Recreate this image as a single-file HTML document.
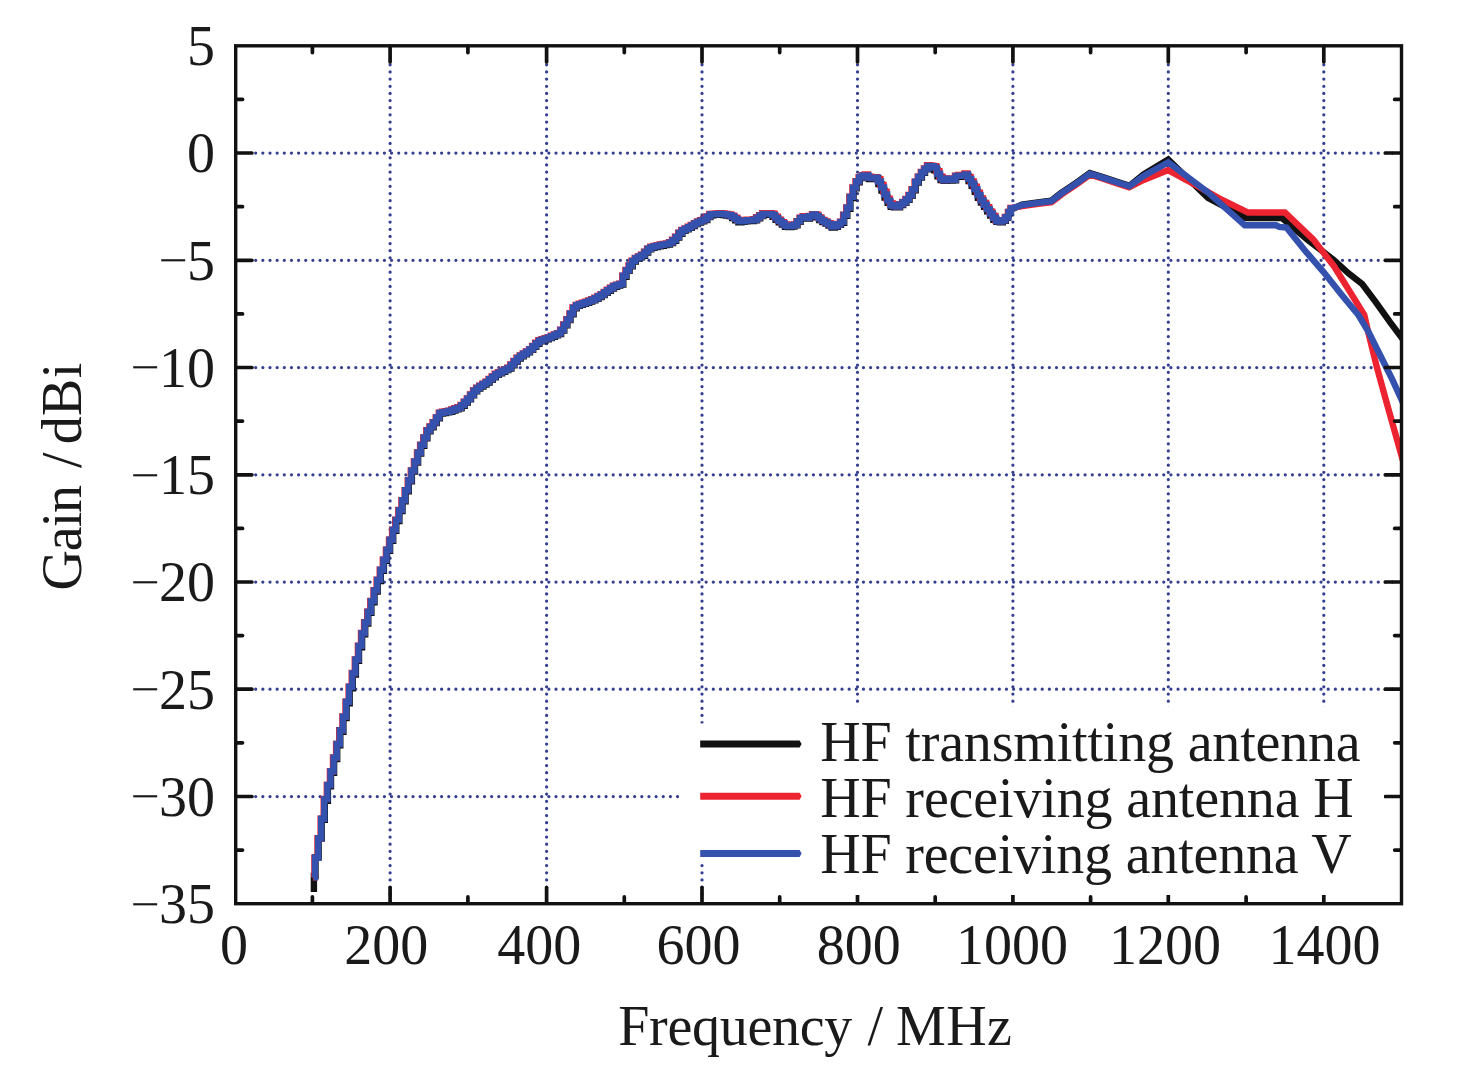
<!DOCTYPE html>
<html lang="en"><head><meta charset="utf-8"><title>Gain vs Frequency</title>
<style>
html,body{margin:0;padding:0;background:#fff;}
svg{display:block;}
text{font-family:"Liberation Serif","Times New Roman",serif;font-size:56px;fill:#1a1a1a;}
</style></head><body>
<svg width="1476" height="1077" viewBox="0 0 1476 1077">
<rect x="0" y="0" width="1476" height="1077" fill="#ffffff"/>

<g stroke="#353f90" stroke-width="3.25" stroke-linecap="round" stroke-dasharray="0 7.15" fill="none">
<line x1="255.7" y1="153.0" x2="1398.5" y2="153.0"/>
<line x1="255.7" y1="260.3" x2="1398.5" y2="260.3"/>
<line x1="255.7" y1="367.5" x2="1398.5" y2="367.5"/>
<line x1="255.7" y1="474.8" x2="1398.5" y2="474.8"/>
<line x1="255.7" y1="582.0" x2="1398.5" y2="582.0"/>
<line x1="255.7" y1="689.2" x2="1398.5" y2="689.2"/>
<line x1="255.7" y1="796.5" x2="1398.5" y2="796.5"/>
<line x1="390.1" y1="64.8" x2="390.1" y2="900.7"/>
<line x1="546.6" y1="64.8" x2="546.6" y2="900.7"/>
<line x1="702.0" y1="64.8" x2="702.0" y2="900.7"/>
<line x1="857.5" y1="64.8" x2="857.5" y2="900.7"/>
<line x1="1012.9" y1="64.8" x2="1012.9" y2="900.7"/>
<line x1="1168.3" y1="64.8" x2="1168.3" y2="900.7"/>
<line x1="1323.8" y1="64.8" x2="1323.8" y2="900.7"/>
</g>
<defs><clipPath id="plotclip"><rect x="235.7" y="45.8" width="1165.8" height="857.9"/></clipPath></defs>
<g fill="none" stroke-width="6.4" stroke-linejoin="miter" stroke-linecap="butt" clip-path="url(#plotclip)">
<path stroke="#111111" d="M313.9,892.0 L313.9,876.0 L315.5,876.0 L315.5,857.2 L318.6,857.2 L318.6,838.5 L321.7,838.5 L321.7,819.7 L324.8,819.7 L324.8,800.9 L327.9,800.9 L327.9,786.4 L331.0,786.4 L331.0,772.7 L334.1,772.7 L334.1,759.0 L337.2,759.0 L337.2,745.4 L340.3,745.4 L340.3,731.7 L343.4,731.7 L343.4,718.0 L346.6,718.0 L346.6,703.4 L349.7,703.4 L349.7,688.2 L352.8,688.2 L352.8,674.5 L355.9,674.5 L355.9,660.9 L359.0,660.9 L359.0,647.3 L362.1,647.3 L362.1,634.2 L365.2,634.2 L365.2,623.5 L368.3,623.5 L368.3,612.9 L371.4,612.9 L371.4,602.2 L374.5,602.2 L374.5,591.5 L377.7,591.5 L377.7,581.0 L380.8,581.0 L380.8,570.9 L383.9,570.9 L383.9,560.9 L387.0,560.9 L387.0,550.9 L390.1,550.9 L390.1,540.8 L393.2,540.8 L393.2,530.9 L396.3,530.9 L396.3,521.0 L399.4,521.0 L399.4,511.1 L402.5,511.1 L402.5,501.3 L405.6,501.3 L405.6,491.3 L408.8,491.3 L408.8,481.4 L411.9,481.4 L411.9,471.5 L415.0,471.5 L415.0,462.5 L418.1,462.5 L418.1,453.5 L421.2,453.5 L421.2,445.8 L424.3,445.8 L424.3,438.4 L427.4,438.4 L427.4,431.2 L430.5,431.2 L430.5,427.2 L433.6,427.2 L433.6,423.1 L436.7,423.1 L436.7,418.2 L439.9,418.2 L439.9,413.5 L443.0,413.5 L443.0,413.0 L446.1,413.0 L446.1,412.4 L449.2,412.4 L449.2,411.7 L452.3,411.7 L452.3,410.5 L455.4,410.5 L455.4,409.4 L458.5,409.4 L458.5,408.3 L461.6,408.3 L461.6,405.7 L464.7,405.7 L464.7,402.6 L467.8,402.6 L467.8,399.4 L471.0,399.4 L471.0,395.4 L474.1,395.4 L474.1,391.4 L477.2,391.4 L477.2,388.6 L480.3,388.6 L480.3,386.6 L483.4,386.6 L483.4,384.6 L486.5,384.6 L486.5,382.5 L489.6,382.5 L489.6,379.9 L492.7,379.9 L492.7,377.3 L495.8,377.3 L495.8,374.8 L498.9,374.8 L498.9,373.2 L502.1,373.2 L502.1,371.7 L505.2,371.7 L505.2,370.1 L508.3,370.1 L508.3,368.6 L511.4,368.6 L511.4,365.2 L514.5,365.2 L514.5,361.9 L517.6,361.9 L517.6,358.5 L520.7,358.5 L520.7,356.4 L523.8,356.4 L523.8,354.4 L526.9,354.4 L526.9,352.4 L530.0,352.4 L530.0,349.9 L533.2,349.9 L533.2,346.8 L536.3,346.8 L536.3,343.7 L539.4,343.7 L539.4,341.3 L542.5,341.3 L542.5,340.3 L545.6,340.3 L545.6,339.2 L548.7,339.2 L548.7,338.1 L551.8,338.1 L551.8,336.8 L554.9,336.8 L554.9,335.4 L558.0,335.4 L558.0,334.0 L561.1,334.0 L561.1,330.6 L564.3,330.6 L564.3,325.3 L567.4,325.3 L567.4,320.1 L570.5,320.1 L570.5,314.2 L573.6,314.2 L573.6,308.3 L576.7,308.3 L576.7,305.9 L579.8,305.9 L579.8,304.9 L582.9,304.9 L582.9,303.9 L586.0,303.9 L586.0,302.8 L589.1,302.8 L589.1,301.6 L592.2,301.6 L592.2,300.3 L595.4,300.3 L595.4,298.8 L598.5,298.8 L598.5,297.0 L601.6,297.0 L601.6,295.1 L604.7,295.1 L604.7,292.9 L607.8,292.9 L607.8,290.7 L610.9,290.7 L610.9,288.5 L614.0,288.5 L614.0,286.7 L617.1,286.7 L617.1,285.6 L620.2,285.6 L620.2,284.5 L623.3,284.5 L623.3,276.7 L626.5,276.7 L626.5,270.9 L629.6,270.9 L629.6,266.2 L632.7,266.2 L632.7,261.5 L635.8,261.5 L635.8,258.9 L638.9,258.9 L638.9,257.4 L642.0,257.4 L642.0,255.7 L645.1,255.7 L645.1,252.5 L648.2,252.5 L648.2,249.4 L651.3,249.4 L651.3,247.8 L654.4,247.8 L654.4,247.0 L657.6,247.0 L657.6,246.2 L660.7,246.2 L660.7,245.7 L663.8,245.7 L663.8,245.1 L666.9,245.1 L666.9,244.6 L670.0,244.6 L670.0,243.0 L673.1,243.0 L673.1,240.7 L676.2,240.7 L676.2,237.6 L679.3,237.6 L679.3,233.7 L682.4,233.7 L682.4,230.9 L685.5,230.9 L685.5,229.4 L688.7,229.4 L688.7,227.8 L691.8,227.8 L691.8,226.0 L694.9,226.0 L694.9,224.1 L698.0,224.1 L698.0,222.6 L701.1,222.6 L701.1,221.3 L704.2,221.3 L704.2,220.0 L707.3,220.0 L707.3,217.1 L710.4,217.1 L710.4,215.2 L713.5,215.2 L713.5,214.9 L716.6,214.9 L716.6,214.7 L719.8,214.7 L719.8,214.5 L722.9,214.5 L722.9,215.0 L726.0,215.0 L726.0,215.5 L729.1,215.5 L729.1,216.0 L732.2,216.0 L732.2,218.1 L735.3,218.1 L735.3,220.2 L738.4,220.2 L738.4,222.2 L741.5,222.2 L741.5,221.9 L744.6,221.9 L744.6,221.3 L747.7,221.3 L747.7,221.0 L750.9,221.0 L750.9,221.0 L754.0,221.0 L754.0,220.3 L757.1,220.3 L757.1,218.2 L760.2,218.2 L760.2,216.1 L763.3,216.1 L763.3,214.7 L766.4,214.7 L766.4,214.6 L769.5,214.6 L769.5,214.6 L772.6,214.6 L772.6,216.7 L775.7,216.7 L775.7,219.7 L778.8,219.7 L778.8,222.3 L782.0,222.3 L782.0,224.6 L785.1,224.6 L785.1,226.9 L788.2,226.9 L788.2,227.0 L791.3,227.0 L791.3,226.6 L794.4,226.6 L794.4,225.3 L797.5,225.3 L797.5,221.9 L800.6,221.9 L800.6,218.5 L803.7,218.5 L803.7,217.7 L806.8,217.7 L806.8,218.5 L809.9,218.5 L809.9,216.7 L813.1,216.7 L813.1,214.8 L816.2,214.8 L816.2,217.3 L819.3,217.3 L819.3,220.1 L822.4,220.1 L822.4,222.0 L825.5,222.0 L825.5,223.6 L828.6,223.6 L828.6,225.5 L831.7,225.5 L831.7,227.6 L834.8,227.6 L834.8,226.7 L837.9,226.7 L837.9,224.8 L841.0,224.8 L841.0,222.7 L844.2,222.7 L844.2,215.7 L847.3,215.7 L847.3,208.7 L850.4,208.7 L850.4,198.0 L853.5,198.0 L853.5,188.3 L856.6,188.3 L856.6,182.2 L859.7,182.2 L859.7,178.0 L862.8,178.0 L862.8,176.0 L865.9,176.0 L865.9,176.7 L869.0,176.7 L869.0,179.0 L872.1,179.0 L872.1,178.7 L875.3,178.7 L875.3,178.3 L878.4,178.3 L878.4,184.1 L881.5,184.1 L881.5,190.6 L884.6,190.6 L884.6,197.6 L887.7,197.6 L887.7,202.8 L890.8,202.8 L890.8,206.7 L893.9,206.7 L893.9,207.2 L897.0,207.2 L897.0,207.2 L900.1,207.2 L900.1,205.0 L903.2,205.0 L903.2,202.9 L906.4,202.9 L906.4,199.8 L909.5,199.8 L909.5,195.9 L912.6,195.9 L912.6,190.3 L915.7,190.3 L915.7,182.6 L918.8,182.6 L918.8,177.5 L921.9,177.5 L921.9,172.8 L925.0,172.8 L925.0,169.2 L928.1,169.2 L928.1,166.6 L931.2,166.6 L931.2,167.0 L934.3,167.0 L934.3,170.2 L937.5,170.2 L937.5,176.4 L940.6,176.4 L940.6,180.1 L943.7,180.1 L943.7,180.7 L946.8,180.7 L946.8,179.2 L949.9,179.2 L949.9,180.6 L953.0,180.6 L953.0,180.4 L956.1,180.4 L956.1,176.4 L959.2,176.4 L959.2,176.7 L962.3,176.7 L962.3,176.0 L965.4,176.0 L965.4,176.5 L968.6,176.5 L968.6,181.0 L971.7,181.0 L971.7,185.8 L974.8,185.8 L974.8,191.7 L977.9,191.7 L977.9,197.7 L981.0,197.7 L981.0,202.5 L984.1,202.5 L984.1,206.8 L987.2,206.8 L987.2,211.2 L990.3,211.2 L990.3,215.5 L993.4,215.5 L993.4,219.8 L996.5,219.8 L996.5,221.9 L999.7,221.9 L999.7,222.3 L1002.8,222.3 L1002.8,220.9 L1005.9,220.9 L1005.9,217.9 L1008.0,217.9 L1008.0,216.8 L1008.6,216.8 L1012.3,209.0 L1022.0,204.6 L1037.8,202.3 L1051.1,200.7 L1061.2,192.9 L1075.4,183.4 L1089.8,173.1 L1102.8,177.0 L1117.0,181.7 L1129.6,185.7 L1143.6,174.5 L1168.2,159.5 L1208.0,198.0 L1245.9,218.0 L1282.0,218.0 L1307.2,239.4 L1334.0,260.2 L1348.8,273.6 L1362.2,284.0 L1375.6,301.8 L1390.4,322.6 L1404.0,340.8"/>
<path stroke="#ec2330" d="M312.8,877.3 L314.4,877.3 L314.4,857.7 L317.5,857.7 L317.5,838.2 L320.6,838.2 L320.6,818.6 L323.7,818.6 L323.7,799.0 L326.8,799.0 L326.8,784.9 L329.9,784.9 L329.9,771.2 L333.0,771.2 L333.0,757.5 L336.1,757.5 L336.1,743.9 L339.2,743.9 L339.2,730.2 L342.4,730.2 L342.4,716.5 L345.5,716.5 L345.5,701.7 L348.6,701.7 L348.6,686.7 L351.7,686.7 L351.7,673.0 L354.8,673.0 L354.8,659.4 L357.9,659.4 L357.9,645.8 L361.0,645.8 L361.0,632.9 L364.1,632.9 L364.1,622.3 L367.2,622.3 L367.2,611.6 L370.3,611.6 L370.3,600.9 L373.5,600.9 L373.5,590.3 L376.6,590.3 L376.6,579.8 L379.7,579.8 L379.7,569.7 L382.8,569.7 L382.8,559.7 L385.9,559.7 L385.9,549.7 L389.0,549.7 L389.0,539.6 L392.1,539.6 L392.1,529.7 L395.2,529.7 L395.2,519.8 L398.3,519.8 L398.3,509.9 L401.4,509.9 L401.4,500.1 L404.6,500.1 L404.6,490.1 L407.7,490.1 L407.7,480.2 L410.8,480.2 L410.8,470.4 L413.9,470.4 L413.9,461.4 L417.0,461.4 L417.0,452.4 L420.1,452.4 L420.1,444.8 L423.2,444.8 L423.2,437.4 L426.3,437.4 L426.3,430.3 L429.4,430.3 L429.4,426.4 L432.5,426.4 L432.5,422.2 L435.7,422.2 L435.7,417.4 L438.8,417.4 L438.8,412.6 L441.9,412.6 L441.9,411.8 L445.0,411.8 L445.0,411.2 L448.1,411.2 L448.1,410.6 L451.2,410.6 L451.2,409.5 L454.3,409.5 L454.3,408.3 L457.4,408.3 L457.4,407.2 L460.5,407.2 L460.5,404.9 L463.6,404.9 L463.6,401.8 L466.8,401.8 L466.8,398.5 L469.9,398.5 L469.9,394.5 L473.0,394.5 L473.0,390.5 L476.1,390.5 L476.1,387.6 L479.2,387.6 L479.2,385.6 L482.3,385.6 L482.3,383.6 L485.4,383.6 L485.4,381.6 L488.5,381.6 L488.5,379.0 L491.6,379.0 L491.6,376.4 L494.7,376.4 L494.7,373.8 L497.9,373.8 L497.9,372.2 L501.0,372.2 L501.0,370.7 L504.1,370.7 L504.1,369.1 L507.2,369.1 L507.2,367.6 L510.3,367.6 L510.3,364.4 L513.4,364.4 L513.4,361.0 L516.5,361.0 L516.5,357.6 L519.6,357.6 L519.6,355.4 L522.7,355.4 L522.7,353.4 L525.8,353.4 L525.8,351.4 L529.0,351.4 L529.0,349.1 L532.1,349.1 L532.1,345.9 L535.2,345.9 L535.2,342.8 L538.3,342.8 L538.3,340.2 L541.4,340.2 L541.4,339.2 L544.5,339.2 L544.5,338.1 L547.6,338.1 L547.6,337.1 L550.7,337.1 L550.7,335.7 L553.8,335.7 L553.8,334.4 L556.9,334.4 L556.9,333.1 L560.1,333.1 L560.1,329.8 L563.2,329.8 L563.2,324.5 L566.3,324.5 L566.3,319.2 L569.4,319.2 L569.4,313.4 L572.5,313.4 L572.5,307.5 L575.6,307.5 L575.6,304.9 L578.7,304.9 L578.7,303.8 L581.8,303.8 L581.8,302.8 L584.9,302.8 L584.9,301.7 L588.0,301.7 L588.0,300.5 L591.2,300.5 L591.2,299.3 L594.3,299.3 L594.3,297.8 L597.4,297.8 L597.4,296.0 L600.5,296.0 L600.5,294.1 L603.6,294.1 L603.6,292.0 L606.7,292.0 L606.7,289.8 L609.8,289.8 L609.8,287.6 L612.9,287.6 L612.9,285.6 L616.0,285.6 L616.0,284.6 L619.1,284.6 L619.1,283.6 L622.3,283.6 L622.3,275.7 L625.4,275.7 L625.4,270.0 L628.5,270.0 L628.5,265.4 L631.6,265.4 L631.6,260.7 L634.7,260.7 L634.7,258.0 L637.8,258.0 L637.8,256.5 L640.9,256.5 L640.9,254.8 L644.0,254.8 L644.0,251.7 L647.1,251.7 L647.1,248.6 L650.2,248.6 L650.2,246.7 L653.4,246.7 L653.4,245.9 L656.5,245.9 L656.5,245.1 L659.6,245.1 L659.6,244.4 L662.7,244.4 L662.7,243.9 L665.8,243.9 L665.8,243.4 L668.9,243.4 L668.9,242.2 L672.0,242.2 L672.0,239.8 L675.1,239.8 L675.1,236.7 L678.2,236.7 L678.2,232.8 L681.3,232.8 L681.3,229.9 L684.5,229.9 L684.5,228.4 L687.6,228.4 L687.6,226.8 L690.7,226.8 L690.7,225.0 L693.8,225.0 L693.8,223.2 L696.9,223.2 L696.9,221.5 L700.0,221.5 L700.0,220.2 L703.1,220.2 L703.1,219.0 L706.2,219.0 L706.2,216.4 L709.3,216.4 L709.3,213.9 L712.4,213.9 L712.4,213.7 L715.6,213.7 L715.6,213.4 L718.7,213.4 L718.7,213.2 L721.8,213.2 L721.8,213.4 L724.9,213.4 L724.9,213.9 L728.0,213.9 L728.0,214.5 L731.1,214.5 L731.1,215.7 L734.2,215.7 L734.2,217.8 L737.3,217.8 L737.3,219.9 L740.4,219.9 L740.4,220.7 L743.5,220.7 L743.5,220.1 L746.7,220.1 L746.7,219.6 L749.8,219.6 L749.8,219.6 L752.9,219.6 L752.9,219.3 L756.0,219.3 L756.0,217.3 L759.1,217.3 L759.1,215.2 L762.2,215.2 L762.2,213.3 L765.3,213.3 L765.3,213.3 L768.4,213.3 L768.4,213.3 L771.5,213.3 L771.5,213.8 L774.6,213.8 L774.6,216.7 L777.8,216.7 L777.8,219.7 L780.9,219.7 L780.9,222.1 L784.0,222.1 L784.0,224.4 L787.1,224.4 L787.1,225.8 L790.2,225.8 L790.2,225.5 L793.3,225.5 L793.3,224.5 L796.4,224.5 L796.4,221.1 L799.5,221.1 L799.5,217.7 L802.6,217.7 L802.6,216.2 L805.7,216.2 L805.7,217.2 L808.9,217.2 L808.9,215.9 L812.0,215.9 L812.0,214.2 L815.1,214.2 L815.1,214.6 L818.2,214.6 L818.2,217.4 L821.3,217.4 L821.3,219.9 L824.4,219.9 L824.4,221.5 L827.5,221.5 L827.5,223.2 L830.6,223.2 L830.6,225.5 L833.7,225.5 L833.7,225.8 L836.8,225.8 L836.8,224.0 L840.0,224.0 L840.0,221.8 L843.1,221.8 L843.1,214.8 L846.2,214.8 L846.2,207.5 L849.3,207.5 L849.3,196.8 L852.4,196.8 L852.4,187.4 L855.5,187.4 L855.5,181.3 L858.6,181.3 L858.6,177.2 L861.7,177.2 L861.7,175.3 L864.8,175.3 L864.8,174.5 L867.9,174.5 L867.9,176.7 L871.1,176.7 L871.1,177.7 L874.2,177.7 L874.2,177.3 L877.3,177.3 L877.3,179.3 L880.4,179.3 L880.4,184.9 L883.5,184.9 L883.5,191.7 L886.6,191.7 L886.6,198.7 L889.7,198.7 L889.7,203.4 L892.8,203.4 L892.8,205.8 L895.9,205.8 L895.9,206.2 L899.0,206.2 L899.0,204.1 L902.2,204.1 L902.2,202.0 L905.3,202.0 L905.3,198.9 L908.4,198.9 L908.4,195.0 L911.5,195.0 L911.5,189.3 L914.6,189.3 L914.6,181.6 L917.7,181.6 L917.7,176.6 L920.8,176.6 L920.8,171.9 L923.9,171.9 L923.9,168.5 L927.0,168.5 L927.0,165.3 L930.1,165.3 L930.1,165.7 L933.3,165.7 L933.3,166.1 L936.4,166.1 L936.4,171.2 L939.5,171.2 L939.5,176.7 L942.6,176.7 L942.6,180.0 L945.7,180.0 L945.7,178.4 L948.8,178.4 L948.8,178.8 L951.9,178.8 L951.9,179.9 L955.0,179.9 L955.0,175.8 L958.1,175.8 L958.1,174.9 L961.2,174.9 L961.2,175.7 L964.4,175.7 L964.4,173.5 L967.5,173.5 L967.5,177.0 L970.6,177.0 L970.6,181.5 L973.7,181.5 L973.7,186.7 L976.8,186.7 L976.8,192.6 L979.9,192.6 L979.9,198.5 L983.0,198.5 L983.0,202.9 L986.1,202.9 L986.1,207.2 L989.2,207.2 L989.2,211.6 L992.3,211.6 L992.3,215.9 L995.5,215.9 L995.5,220.3 L998.6,220.3 L998.6,221.0 L1001.7,221.0 L1001.7,220.1 L1004.8,220.1 L1004.8,217.0 L1007.9,217.0 L1007.9,211.9 L1010.4,211.9 L1010.4,207.9 L1011.4,207.9 L1022.3,206.1 L1038.0,203.8 L1051.6,202.1 L1062.0,194.1 L1076.2,184.6 L1090.1,174.6 L1102.3,178.5 L1116.5,183.2 L1129.1,187.2 L1143.6,180.0 L1168.2,170.1 L1196.9,185.8 L1219.1,198.3 L1248.1,212.5 L1284.9,212.5 L1313.2,239.4 L1334.0,266.2 L1348.8,289.9 L1364.3,315.0 L1368.5,333.4 L1376.8,366.9 L1386.9,403.6 L1403.8,463.8"/>
<path stroke="#3551ae" d="M313.4,877.4 L315.0,877.4 L315.0,857.8 L318.1,857.8 L318.1,838.3 L321.2,838.3 L321.2,818.7 L324.3,818.7 L324.3,799.1 L327.4,799.1 L327.4,785.0 L330.5,785.0 L330.5,771.3 L333.6,771.3 L333.6,757.6 L336.7,757.6 L336.7,744.0 L339.8,744.0 L339.8,730.3 L342.9,730.3 L342.9,716.6 L346.1,716.6 L346.1,701.8 L349.2,701.8 L349.2,686.8 L352.3,686.8 L352.3,673.1 L355.4,673.1 L355.4,659.5 L358.5,659.5 L358.5,645.9 L361.6,645.9 L361.6,633.1 L364.7,633.1 L364.7,622.4 L367.8,622.4 L367.8,611.7 L370.9,611.7 L370.9,601.1 L374.0,601.1 L374.0,590.4 L377.2,590.4 L377.2,579.9 L380.3,579.9 L380.3,569.8 L383.4,569.8 L383.4,559.8 L386.5,559.8 L386.5,549.8 L389.6,549.8 L389.6,539.7 L392.7,539.7 L392.7,529.8 L395.8,529.8 L395.8,519.9 L398.9,519.9 L398.9,510.1 L402.0,510.1 L402.0,500.2 L405.1,500.2 L405.1,490.3 L408.3,490.3 L408.3,480.3 L411.4,480.3 L411.4,470.5 L414.5,470.5 L414.5,461.5 L417.6,461.5 L417.6,452.5 L420.7,452.5 L420.7,444.9 L423.8,444.9 L423.8,437.5 L426.9,437.5 L426.9,430.5 L430.0,430.5 L430.0,426.6 L433.1,426.6 L433.1,422.4 L436.2,422.4 L436.2,417.5 L439.4,417.5 L439.4,412.9 L442.5,412.9 L442.5,412.3 L445.6,412.3 L445.6,411.7 L448.7,411.7 L448.7,411.0 L451.8,411.0 L451.8,409.9 L454.9,409.9 L454.9,408.8 L458.0,408.8 L458.0,407.6 L461.1,407.6 L461.1,405.1 L464.2,405.1 L464.2,402.0 L467.3,402.0 L467.3,398.8 L470.5,398.8 L470.5,394.7 L473.6,394.7 L473.6,390.7 L476.7,390.7 L476.7,388.0 L479.8,388.0 L479.8,385.9 L482.9,385.9 L482.9,383.9 L486.0,383.9 L486.0,381.9 L489.1,381.9 L489.1,379.3 L492.2,379.3 L492.2,376.7 L495.3,376.7 L495.3,374.2 L498.4,374.2 L498.4,372.6 L501.6,372.6 L501.6,371.0 L504.7,371.0 L504.7,369.5 L507.8,369.5 L507.8,367.9 L510.9,367.9 L510.9,364.6 L514.0,364.6 L514.0,361.2 L517.1,361.2 L517.1,357.9 L520.2,357.9 L520.2,355.7 L523.3,355.7 L523.3,353.7 L526.4,353.7 L526.4,351.7 L529.5,351.7 L529.5,349.3 L532.7,349.3 L532.7,346.2 L535.8,346.2 L535.8,343.1 L538.9,343.1 L538.9,340.7 L542.0,340.7 L542.0,339.6 L545.1,339.6 L545.1,338.6 L548.2,338.6 L548.2,337.5 L551.3,337.5 L551.3,336.1 L554.4,336.1 L554.4,334.8 L557.5,334.8 L557.5,333.4 L560.6,333.4 L560.6,329.9 L563.8,329.9 L563.8,324.6 L566.9,324.6 L566.9,319.4 L570.0,319.4 L570.0,313.5 L573.1,313.5 L573.1,307.6 L576.2,307.6 L576.2,305.3 L579.3,305.3 L579.3,304.2 L582.4,304.2 L582.4,303.2 L585.5,303.2 L585.5,302.2 L588.6,302.2 L588.6,300.9 L591.7,300.9 L591.7,299.7 L594.9,299.7 L594.9,298.2 L598.0,298.2 L598.0,296.3 L601.1,296.3 L601.1,294.5 L604.2,294.5 L604.2,292.3 L607.3,292.3 L607.3,290.1 L610.4,290.1 L610.4,287.9 L613.5,287.9 L613.5,286.0 L616.6,286.0 L616.6,285.0 L619.7,285.0 L619.7,283.9 L622.8,283.9 L622.8,275.8 L626.0,275.8 L626.0,270.2 L629.1,270.2 L629.1,265.5 L632.2,265.5 L632.2,260.9 L635.3,260.9 L635.3,258.3 L638.4,258.3 L638.4,256.8 L641.5,256.8 L641.5,255.0 L644.6,255.0 L644.6,251.9 L647.7,251.9 L647.7,248.8 L650.8,248.8 L650.8,247.1 L653.9,247.1 L653.9,246.3 L657.1,246.3 L657.1,245.6 L660.2,245.6 L660.2,244.9 L663.3,244.9 L663.3,244.4 L666.4,244.4 L666.4,243.9 L669.5,243.9 L669.5,242.4 L672.6,242.4 L672.6,240.1 L675.7,240.1 L675.7,236.9 L678.8,236.9 L678.8,233.0 L681.9,233.0 L681.9,230.3 L685.0,230.3 L685.0,228.7 L688.2,228.7 L688.2,227.2 L691.3,227.2 L691.3,225.4 L694.4,225.4 L694.4,223.5 L697.5,223.5 L697.5,221.9 L700.6,221.9 L700.6,220.6 L703.7,220.6 L703.7,219.4 L706.8,219.4 L706.8,216.6 L709.9,216.6 L709.9,214.4 L713.0,214.4 L713.0,214.2 L716.1,214.2 L716.1,214.0 L719.3,214.0 L719.3,213.8 L722.4,213.8 L722.4,214.1 L725.5,214.1 L725.5,214.6 L728.6,214.6 L728.6,215.2 L731.7,215.2 L731.7,216.8 L734.8,216.8 L734.8,218.9 L737.9,218.9 L737.9,221.0 L741.0,221.0 L741.0,221.2 L744.1,221.2 L744.1,220.6 L747.2,220.6 L747.2,220.2 L750.4,220.2 L750.4,220.2 L753.5,220.2 L753.5,219.7 L756.6,219.7 L756.6,217.6 L759.7,217.6 L759.7,215.5 L762.8,215.5 L762.8,213.9 L765.9,213.9 L765.9,213.9 L769.0,213.9 L769.0,213.9 L772.1,213.9 L772.1,215.1 L775.2,215.1 L775.2,218.1 L778.3,218.1 L778.3,220.9 L781.5,220.9 L781.5,223.2 L784.6,223.2 L784.6,225.6 L787.7,225.6 L787.7,226.3 L790.8,226.3 L790.8,225.9 L793.9,225.9 L793.9,224.7 L797.0,224.7 L797.0,221.3 L800.1,221.3 L800.1,217.9 L803.2,217.9 L803.2,216.9 L806.3,216.9 L806.3,217.9 L809.4,217.9 L809.4,216.2 L812.6,216.2 L812.6,214.4 L815.7,214.4 L815.7,215.9 L818.8,215.9 L818.8,218.6 L821.9,218.6 L821.9,220.9 L825.0,220.9 L825.0,222.5 L828.1,222.5 L828.1,224.3 L831.2,224.3 L831.2,226.5 L834.3,226.5 L834.3,226.1 L837.4,226.1 L837.4,224.3 L840.5,224.3 L840.5,221.9 L843.7,221.9 L843.7,214.9 L846.8,214.9 L846.8,207.6 L849.9,207.6 L849.9,196.9 L853.0,196.9 L853.0,187.6 L856.1,187.6 L856.1,181.4 L859.2,181.4 L859.2,177.4 L862.3,177.4 L862.3,175.5 L865.4,175.5 L865.4,175.5 L868.5,175.5 L868.5,177.8 L871.6,177.8 L871.6,178.1 L874.8,178.1 L874.8,177.7 L877.9,177.7 L877.9,181.5 L881.0,181.5 L881.0,187.5 L884.1,187.5 L884.1,194.5 L887.2,194.5 L887.2,200.6 L890.3,200.6 L890.3,205.3 L893.4,205.3 L893.4,206.4 L896.5,206.4 L896.5,206.6 L899.6,206.6 L899.6,204.4 L902.7,204.4 L902.7,202.3 L905.9,202.3 L905.9,199.2 L909.0,199.2 L909.0,195.3 L912.1,195.3 L912.1,189.4 L915.2,189.4 L915.2,181.7 L918.3,181.7 L918.3,176.8 L921.4,176.8 L921.4,172.2 L924.5,172.2 L924.5,168.7 L927.6,168.7 L927.6,165.9 L930.7,165.9 L930.7,166.3 L933.8,166.3 L933.8,167.6 L937.0,167.6 L937.0,173.7 L940.1,173.7 L940.1,178.4 L943.2,178.4 L943.2,180.2 L946.3,180.2 L946.3,178.6 L949.4,178.6 L949.4,179.6 L952.5,179.6 L952.5,179.9 L955.6,179.9 L955.6,175.9 L958.7,175.9 L958.7,175.7 L961.8,175.7 L961.8,175.8 L964.9,175.8 L964.9,174.4 L968.1,174.4 L968.1,178.9 L971.2,178.9 L971.2,183.4 L974.3,183.4 L974.3,189.1 L977.4,189.1 L977.4,195.0 L980.5,195.0 L980.5,200.4 L983.6,200.4 L983.6,204.7 L986.7,204.7 L986.7,209.1 L989.8,209.1 L989.8,213.5 L992.9,213.5 L992.9,217.8 L996.0,217.8 L996.0,221.1 L999.2,221.1 L999.2,221.6 L1002.3,221.6 L1002.3,220.3 L1005.4,220.3 L1005.4,217.3 L1008.5,217.3 L1008.5,212.0 L1010.9,212.0 L1010.9,208.4 L1011.8,208.4 L1022.1,205.2 L1037.9,202.9 L1051.3,201.3 L1061.5,193.4 L1075.7,183.9 L1089.9,173.7 L1102.6,177.6 L1116.8,182.3 L1129.4,186.3 L1143.6,176.0 L1168.2,162.3 L1208.0,192.4 L1244.8,225.3 L1276.0,225.3 L1279.3,226.9 L1286.5,227.5 L1304.3,249.8 L1323.6,272.1 L1341.4,294.4 L1358.4,315.0 L1368.5,331.8 L1381.8,358.5 L1391.9,378.6 L1403.7,404.5"/>
</g>
<g stroke="#111111" stroke-width="3.7" stroke-linecap="round" fill="none">
<line x1="312.4" y1="903.1" x2="312.4" y2="896.9"/>
<line x1="312.4" y1="46.4" x2="312.4" y2="52.6"/>
<line x1="390.1" y1="903.1" x2="390.1" y2="887.5"/>
<line x1="390.1" y1="46.4" x2="390.1" y2="62.0"/>
<line x1="467.9" y1="903.1" x2="467.9" y2="896.9"/>
<line x1="467.9" y1="46.4" x2="467.9" y2="52.6"/>
<line x1="546.6" y1="903.1" x2="546.6" y2="887.5"/>
<line x1="546.6" y1="46.4" x2="546.6" y2="62.0"/>
<line x1="624.3" y1="903.1" x2="624.3" y2="896.9"/>
<line x1="624.3" y1="46.4" x2="624.3" y2="52.6"/>
<line x1="702.0" y1="903.1" x2="702.0" y2="887.5"/>
<line x1="702.0" y1="46.4" x2="702.0" y2="62.0"/>
<line x1="779.7" y1="903.1" x2="779.7" y2="896.9"/>
<line x1="779.7" y1="46.4" x2="779.7" y2="52.6"/>
<line x1="857.5" y1="903.1" x2="857.5" y2="887.5"/>
<line x1="857.5" y1="46.4" x2="857.5" y2="62.0"/>
<line x1="935.2" y1="903.1" x2="935.2" y2="896.9"/>
<line x1="935.2" y1="46.4" x2="935.2" y2="52.6"/>
<line x1="1012.9" y1="903.1" x2="1012.9" y2="887.5"/>
<line x1="1012.9" y1="46.4" x2="1012.9" y2="62.0"/>
<line x1="1090.6" y1="903.1" x2="1090.6" y2="896.9"/>
<line x1="1090.6" y1="46.4" x2="1090.6" y2="52.6"/>
<line x1="1168.3" y1="903.1" x2="1168.3" y2="887.5"/>
<line x1="1168.3" y1="46.4" x2="1168.3" y2="62.0"/>
<line x1="1246.1" y1="903.1" x2="1246.1" y2="896.9"/>
<line x1="1246.1" y1="46.4" x2="1246.1" y2="52.6"/>
<line x1="1323.8" y1="903.1" x2="1323.8" y2="887.5"/>
<line x1="1323.8" y1="46.4" x2="1323.8" y2="62.0"/>
<line x1="236.3" y1="99.4" x2="242.5" y2="99.4"/>
<line x1="1400.9" y1="99.4" x2="1394.7" y2="99.4"/>
<line x1="236.3" y1="153.0" x2="251.9" y2="153.0"/>
<line x1="1400.9" y1="153.0" x2="1385.3" y2="153.0"/>
<line x1="236.3" y1="206.7" x2="242.5" y2="206.7"/>
<line x1="1400.9" y1="206.7" x2="1394.7" y2="206.7"/>
<line x1="236.3" y1="260.3" x2="251.9" y2="260.3"/>
<line x1="1400.9" y1="260.3" x2="1385.3" y2="260.3"/>
<line x1="236.3" y1="313.9" x2="242.5" y2="313.9"/>
<line x1="1400.9" y1="313.9" x2="1394.7" y2="313.9"/>
<line x1="236.3" y1="367.5" x2="251.9" y2="367.5"/>
<line x1="1400.9" y1="367.5" x2="1385.3" y2="367.5"/>
<line x1="236.3" y1="421.1" x2="242.5" y2="421.1"/>
<line x1="1400.9" y1="421.1" x2="1394.7" y2="421.1"/>
<line x1="236.3" y1="474.8" x2="251.9" y2="474.8"/>
<line x1="1400.9" y1="474.8" x2="1385.3" y2="474.8"/>
<line x1="236.3" y1="528.4" x2="242.5" y2="528.4"/>
<line x1="1400.9" y1="528.4" x2="1394.7" y2="528.4"/>
<line x1="236.3" y1="582.0" x2="251.9" y2="582.0"/>
<line x1="1400.9" y1="582.0" x2="1385.3" y2="582.0"/>
<line x1="236.3" y1="635.6" x2="242.5" y2="635.6"/>
<line x1="1400.9" y1="635.6" x2="1394.7" y2="635.6"/>
<line x1="236.3" y1="689.2" x2="251.9" y2="689.2"/>
<line x1="1400.9" y1="689.2" x2="1385.3" y2="689.2"/>
<line x1="236.3" y1="742.8" x2="242.5" y2="742.8"/>
<line x1="1400.9" y1="742.8" x2="1394.7" y2="742.8"/>
<line x1="236.3" y1="796.5" x2="251.9" y2="796.5"/>
<line x1="1400.9" y1="796.5" x2="1385.3" y2="796.5"/>
<line x1="236.3" y1="850.1" x2="242.5" y2="850.1"/>
<line x1="1400.9" y1="850.1" x2="1394.7" y2="850.1"/>
</g>
<rect x="682" y="723.4" width="702" height="139.6" fill="#fff"/>
<rect x="812" y="707" width="572" height="188" fill="#fff"/>
<path fill="#111111" d="M700.2,740.4 L799.6,740.4 L801.6,743.9 L799.6,747.4 L700.2,747.4 Z"/>
<path fill="#ec2330" d="M700.2,792.8 L799.6,792.8 L801.6,796.3 L799.6,799.8 L700.2,799.8 Z"/>
<path fill="#3551ae" d="M700.2,849.9 L799.6,849.9 L801.6,853.4 L799.6,856.9 L700.2,856.9 Z"/>
<text x="820.2" y="760.8" textLength="540.5" lengthAdjust="spacing">HF transmitting antenna</text>
<text x="820.2" y="817.0" textLength="533.5" lengthAdjust="spacing">HF receiving antenna H</text>
<text x="820.2" y="872.5" textLength="531.5" lengthAdjust="spacing">HF receiving antenna V</text>
<rect x="235.7" y="45.8" width="1165.8" height="857.9" fill="none" stroke="#111111" stroke-width="3.4"/>
<text x="215" y="65.2" text-anchor="end" style="font-size:56px">5</text>
<text x="215" y="172.4" text-anchor="end" style="font-size:56px">0</text>
<text x="215" y="279.7" text-anchor="end" style="font-size:56px">5</text>
<text transform="translate(158.7,275.2) scale(0.92,0.78)">−</text>
<text x="215" y="386.9" text-anchor="end" style="font-size:56px">10</text>
<text transform="translate(130.7,382.4) scale(0.92,0.78)">−</text>
<text x="215" y="494.1" text-anchor="end" style="font-size:56px">15</text>
<text transform="translate(130.7,489.6) scale(0.92,0.78)">−</text>
<text x="215" y="601.4" text-anchor="end" style="font-size:56px">20</text>
<text transform="translate(130.7,596.9) scale(0.92,0.78)">−</text>
<text x="215" y="708.6" text-anchor="end" style="font-size:56px">25</text>
<text transform="translate(130.7,704.1) scale(0.92,0.78)">−</text>
<text x="215" y="815.9" text-anchor="end" style="font-size:56px">30</text>
<text transform="translate(130.7,811.4) scale(0.92,0.78)">−</text>
<text x="215" y="923.1" text-anchor="end" style="font-size:56px">35</text>
<text transform="translate(130.7,918.6) scale(0.92,0.78)">−</text>
<text x="234.0" y="964.4" text-anchor="middle" style="font-size:56px">0</text>
<text x="386.3" y="964.4" text-anchor="middle" style="font-size:56px">200</text>
<text x="539.2" y="964.4" text-anchor="middle" style="font-size:56px">400</text>
<text x="698.5" y="964.4" text-anchor="middle" style="font-size:56px">600</text>
<text x="858.8" y="964.4" text-anchor="middle" style="font-size:56px">800</text>
<text x="1011.9" y="964.4" text-anchor="middle" style="font-size:56px">1000</text>
<text x="1165.1" y="964.4" text-anchor="middle" style="font-size:56px">1200</text>
<text x="1324.6" y="964.4" text-anchor="middle" style="font-size:56px">1400</text>
<text y="1045.4"><tspan x="618.2" textLength="234.1" lengthAdjust="spacing">Frequency</tspan> <tspan x="867.6">/</tspan> <tspan x="895.9" textLength="116" lengthAdjust="spacing">MHz</tspan></text>
<text transform="translate(80.7,0) rotate(-90)"><tspan x="-590.5" textLength="105.6" lengthAdjust="spacing">Gain</tspan> <tspan x="-468.0">/</tspan> <tspan x="-444.3" textLength="81.7" lengthAdjust="spacing">dBi</tspan></text>
</svg></body></html>
